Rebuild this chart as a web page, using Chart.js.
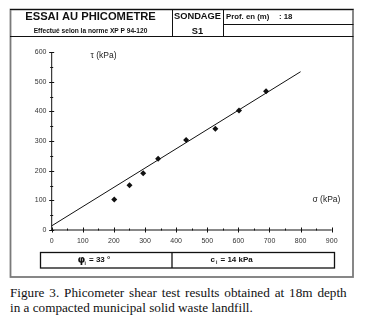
<!DOCTYPE html>
<html>
<head>
<meta charset="utf-8">
<script src="https://cdn.jsdelivr.net/npm/chart.js@4/dist/chart.umd.min.js"></script>
<style>
  body { margin: 0; background: #fff; width: 371px; height: 323px; overflow: hidden; position: relative; }
  #chart { position: absolute; left: 0; top: 0; }
  #caption {
    position: absolute; left: 10px; top: 284.7px;
    font-family: "Liberation Serif", "Times New Roman", serif;
    font-size: 13.2px; line-height: 15px; color: #111; white-space: nowrap;
  }
  #caption .first { word-spacing: 1.6px; }
</style>
</head>
<body>
<canvas id="chart" width="371" height="282"></canvas>
<div id="caption"><span class="first">Figure 3. Phicometer shear test results obtained at 18m depth</span><br>in a compacted municipal solid waste landfill.</div>
<script>
// Measured points: normal stress sigma vs shear stress tau (kPa)
const sigma = [201, 250, 294, 342, 432, 526, 602, 689];
const tau = [103, 151, 191, 240, 303, 341, 403, 468];

// Fitted envelope parameters
const cohesion = 14;      // c_i, kPa
const frictionAngle = 33; // phi_i, degrees
const envelopeSigma = [0, 800];

const xTicks = [0, 100, 200, 300, 400, 500, 600, 700, 800, 900];
const yTicks = [0, 100, 200, 300, 400, 500, 600];

const SANS = '"Liberation Sans", Arial, Helvetica, sans-serif';

const points = sigma.map((s, i) => ({ x: s, y: tau[i] }));
const tanPhi = Math.tan(frictionAngle * Math.PI / 180);
const envelope = envelopeSigma.map(s => ({ x: s, y: cohesion + s * tanPhi }));

function line(ctx, x1, y1, x2, y2) {
  ctx.beginPath();
  ctx.moveTo(x1, y1);
  ctx.lineTo(x2, y2);
  ctx.stroke();
}

function text(ctx, str, x, y, font, align) {
  ctx.font = font;
  ctx.textAlign = align || 'center';
  ctx.textBaseline = 'middle';
  ctx.fillText(str, x, y);
}

// Sheet frame, header block, axes with ticks, and the result box
const sheetPlugin = {
  id: 'sheet',
  beforeDatasetsDraw(chart) {
    const ctx = chart.ctx;
    const xs = chart.scales.x, ys = chart.scales.y;
    const x0 = xs.getPixelForValue(0), y0 = ys.getPixelForValue(0);
    ctx.save();
    ctx.fillStyle = '#222';
    ctx.strokeStyle = '#111';
    ctx.lineWidth = 1;

    // axes
    line(ctx, x0, y0, xs.getPixelForValue(900), y0);
    line(ctx, x0, y0, x0, ys.getPixelForValue(600));

    // x ticks: major every 100, minor at 50
    for (let v = 0; v <= 900; v += 50) {
      const px = Math.round(xs.getPixelForValue(v)) + 0.5;
      if (v % 100 === 0) line(ctx, px, y0 - 2.5, px, y0 + 2.5);
      else line(ctx, px, y0 - 1.5, px, y0 + 0.5);
    }
    for (let v = 0; v <= 600; v += 50) {
      const py = Math.round(ys.getPixelForValue(v)) + 0.5;
      if (v % 100 === 0) line(ctx, x0 - 2.5, py, x0 + 2.5, py);
      else line(ctx, x0 - 1.5, py, x0 + 1.5, py);
    }

    ctx.fillStyle = '#333';
    xTicks.forEach(v => text(ctx, String(v), xs.getPixelForValue(v), 241, '7px ' + SANS));
    yTicks.forEach(v => text(ctx, String(v), 46.5, ys.getPixelForValue(v), '7px ' + SANS, 'right'));

    ctx.fillStyle = '#222';
    text(ctx, 'τ (kPa)', 90.5, 56, '8.5px ' + SANS, 'left');
    text(ctx, 'σ (kPa)', 312.5, 199.5, '8.5px ' + SANS, 'left');
    ctx.restore();
  },
  afterDraw(chart) {
    const ctx = chart.ctx;
    ctx.save();

    // outer gray frame
    ctx.strokeStyle = '#7a7a7a';
    ctx.lineWidth = 1.8;
    ctx.strokeRect(10.5, 9.5, 342.5, 267.5);

    // header cells
    ctx.strokeStyle = '#111';
    ctx.lineWidth = 1;
    line(ctx, 10, 9.5, 353.5, 9.5);
    line(ctx, 10, 36.5, 353.5, 36.5);
    line(ctx, 172.5, 9.5, 172.5, 36.5);
    line(ctx, 223.5, 9.5, 223.5, 36.5);
    line(ctx, 223.5, 24.5, 353.5, 24.5);

    ctx.fillStyle = '#111';
    text(ctx, 'ESSAI AU PHICOMETRE', 90.5, 16.5, 'bold 11.2px ' + SANS);
    text(ctx, 'Effectué selon la norme XP P 94-120', 90.5, 31.5, 'bold 6.6px ' + SANS);
    text(ctx, 'SONDAGE', 197.5, 16.5, 'bold 9.3px ' + SANS);
    text(ctx, 'S1', 197.5, 31, 'bold 9.3px ' + SANS);
    text(ctx, 'Prof. en (m)', 226, 17, 'bold 7.8px ' + SANS, 'left');
    text(ctx, ': 18', 279, 17, 'bold 7.8px ' + SANS, 'left');

    // result box
    ctx.lineWidth = 1.3;
    ctx.strokeRect(40.5, 252.5, 294, 15.5);
    line(ctx, 172, 252.5, 172, 268);

    text(ctx, 'φ', 77.5, 260.5, 'bold 10px "DejaVu Sans", ' + SANS, 'left');
    text(ctx, 'i', 84.5, 263.5, 'bold 5px ' + SANS, 'left');
    text(ctx, '= 33 °', 89, 260, 'bold 8px ' + SANS, 'left');
    text(ctx, 'c', 210.5, 260, 'bold 8px ' + SANS, 'left');
    text(ctx, 'i', 216, 262.5, 'bold 5px ' + SANS, 'left');
    text(ctx, '= 14 kPa', 220.5, 260, 'bold 8px ' + SANS, 'left');
    ctx.restore();
  }
};

new Chart(document.getElementById('chart'), {
  type: 'scatter',
  data: {
    datasets: [
      {
        label: 'Envelope',
        data: envelope,
        showLine: true,
        borderColor: '#111',
        borderWidth: 1,
        pointRadius: 0,
        clip: false
      },
      {
        label: 'Mesures',
        data: points,
        pointStyle: 'rectRot',
        pointRadius: 3,
        backgroundColor: '#111',
        borderColor: '#111',
        borderWidth: 0,
        clip: false
      }
    ]
  },
  options: {
    responsive: false,
    animation: false,
    layout: { padding: { left: 51.7, right: 39.3, top: 52, bottom: 52 } },
    plugins: { legend: { display: false }, tooltip: { enabled: false } },
    scales: {
      x: { type: 'linear', min: 0, max: 900, display: false },
      y: { type: 'linear', min: 0, max: 600, display: false }
    }
  },
  plugins: [sheetPlugin]
});
</script>
</body>
</html>
